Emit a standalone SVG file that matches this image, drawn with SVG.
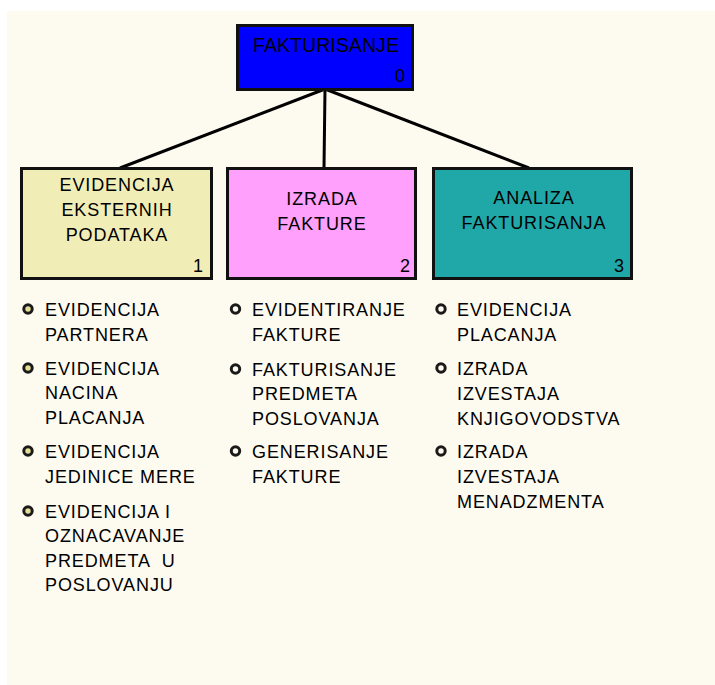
<svg xmlns="http://www.w3.org/2000/svg" width="715" height="685" viewBox="0 0 715 685">
  <style>
    text { font-family: "Liberation Sans", Arial, sans-serif; fill: #000; white-space: pre; }
    .lbl { font-size: 18px; letter-spacing: 0.9px; }
    .ctr { text-anchor: middle; }
    .num { font-size: 18px; text-anchor: end; }
    .box { stroke: #111; stroke-width: 3; }
    .bul { stroke: #1a1a1a; stroke-width: 3; }
  </style>
  <defs>
    <circle id="dot" r="4.2"/>
  </defs>

  <!-- page -->
  <rect width="715" height="685" fill="#ffffff"/>
  <rect x="7" y="11" width="708" height="674" fill="#fdfbf0"/>

  <!-- connectors -->
  <g id="connectors" stroke="#000" stroke-width="3" fill="none">
    <line x1="325" y1="89" x2="120" y2="168"/>
    <line x1="325" y1="89" x2="324" y2="168"/>
    <line x1="325" y1="89" x2="529" y2="168"/>
  </g>

  <!-- root -->
  <g id="node0">
    <rect class="box" x="237.5" y="25.5" width="175" height="64" fill="#0000ff"/>
    <text class="ctr" x="326" y="52" font-size="20" textLength="146" lengthAdjust="spacingAndGlyphs">FAKTURISANJE</text>
    <text class="num" x="405" y="82">0</text>
  </g>

  <!-- level 1 -->
  <g id="node1">
    <rect class="box" x="21.5" y="168.5" width="190" height="110" fill="#f0eeb6"/>
    <text class="lbl ctr" x="117" y="191">EVIDENCIJA</text>
    <text class="lbl ctr" x="117" y="216">EKSTERNIH</text>
    <text class="lbl ctr" x="117" y="241">PODATAKA</text>
    <text class="num" x="203" y="272">1</text>
  </g>

  <g id="node2">
    <rect class="box" x="227.5" y="168.5" width="188" height="110" fill="#ffa0fc"/>
    <text class="lbl ctr" x="322" y="205">IZRADA</text>
    <text class="lbl ctr" x="322" y="230">FAKTURE</text>
    <text class="num" x="410" y="272">2</text>
  </g>

  <g id="node3">
    <rect class="box" x="433.5" y="168.5" width="198" height="110" fill="#20a8a8"/>
    <text class="lbl ctr" x="534" y="204">ANALIZA</text>
    <text class="lbl ctr" x="534" y="229">FAKTURISANJA</text>
    <text class="num" x="624" y="272">3</text>
  </g>

  <!-- activity lists -->
  <g id="list1">
    <use href="#dot" x="28" y="309" class="bul" fill="#e4df98"/>
    <use href="#dot" x="28" y="368" class="bul" fill="#e4df98"/>
    <use href="#dot" x="28" y="451" class="bul" fill="#e4df98"/>
    <use href="#dot" x="28" y="511" class="bul" fill="#e4df98"/>
    <text class="lbl" x="45">
      <tspan x="45" y="316">EVIDENCIJA</tspan>
      <tspan x="45" y="341">PARTNERA</tspan>
      <tspan x="45" y="375">EVIDENCIJA</tspan>
      <tspan x="45" y="399">NACINA</tspan>
      <tspan x="45" y="424">PLACANJA</tspan>
      <tspan x="45" y="458">EVIDENCIJA</tspan>
      <tspan x="45" y="483">JEDINICE MERE</tspan>
      <tspan x="45" y="518">EVIDENCIJA I</tspan>
      <tspan x="45" y="542">OZNACAVANJE</tspan>
      <tspan x="45" y="567">PREDMETA  U</tspan>
      <tspan x="45" y="591">POSLOVANJU</tspan>
    </text>
  </g>

  <g id="list2">
    <use href="#dot" x="235.5" y="309" class="bul" fill="#fdfbf0"/>
    <use href="#dot" x="235.5" y="369" class="bul" fill="#fdfbf0"/>
    <use href="#dot" x="235.5" y="451" class="bul" fill="#fdfbf0"/>
    <text class="lbl" x="252">
      <tspan x="252" y="316">EVIDENTIRANJE</tspan>
      <tspan x="252" y="341">FAKTURE</tspan>
      <tspan x="252" y="376">FAKTURISANJE</tspan>
      <tspan x="252" y="400">PREDMETA</tspan>
      <tspan x="252" y="425">POSLOVANJA</tspan>
      <tspan x="252" y="458">GENERISANJE</tspan>
      <tspan x="252" y="483">FAKTURE</tspan>
    </text>
  </g>

  <g id="list3">
    <use href="#dot" x="441" y="309" class="bul" fill="#fdfbf0"/>
    <use href="#dot" x="441" y="368" class="bul" fill="#fdfbf0"/>
    <use href="#dot" x="441" y="451" class="bul" fill="#fdfbf0"/>
    <text class="lbl" x="457">
      <tspan x="457" y="316">EVIDENCIJA</tspan>
      <tspan x="457" y="341">PLACANJA</tspan>
      <tspan x="457" y="375">IZRADA</tspan>
      <tspan x="457" y="400">IZVESTAJA</tspan>
      <tspan x="457" y="425">KNJIGOVODSTVA</tspan>
      <tspan x="457" y="458">IZRADA</tspan>
      <tspan x="457" y="483">IZVESTAJA</tspan>
      <tspan x="457" y="508">MENADZMENTA</tspan>
    </text>
  </g>
</svg>
